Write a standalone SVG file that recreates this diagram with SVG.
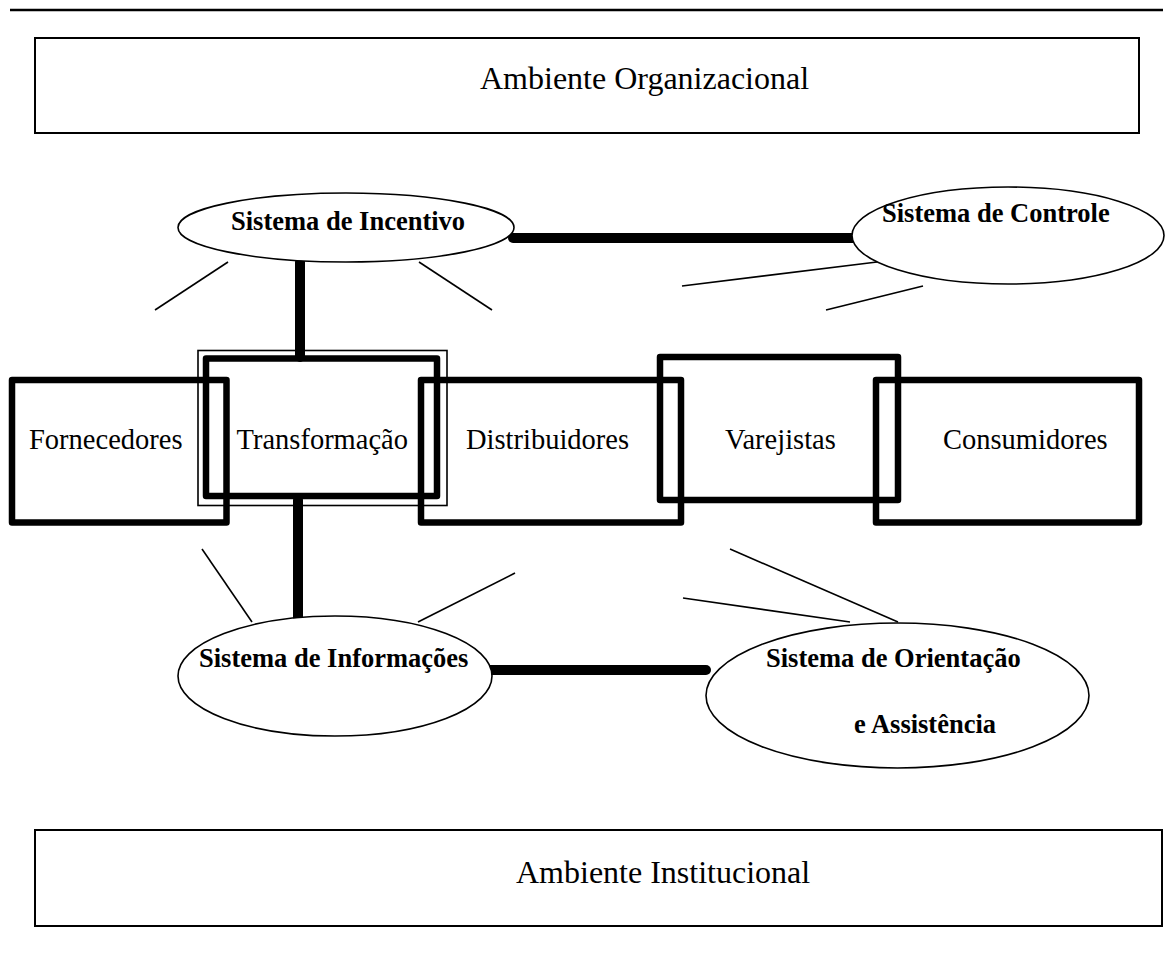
<svg xmlns="http://www.w3.org/2000/svg" width="1175" height="964" viewBox="0 0 1175 964">
  <style>
    .env { fill: none; stroke: #000; stroke-width: 2; }
    .box { fill: none; stroke: #000; stroke-width: 6.5; stroke-linejoin: round; }
    .thin { fill: none; stroke: #000; stroke-width: 1.6; }
    .ell { fill: #fff; stroke: #000; stroke-width: 1.6; }
    .link { stroke: #000; stroke-width: 10; stroke-linecap: round; fill: none; }
    .spoke { stroke: #000; stroke-width: 1.6; fill: none; }
    .lbl { font-family: "Liberation Serif", "Times New Roman", serif; font-size: 28.5px; fill: #000; }
    .env-lbl { font-family: "Liberation Serif", "Times New Roman", serif; font-size: 32px; fill: #000; }
    .sys { font-family: "Liberation Serif", "Times New Roman", serif; font-size: 26.5px; font-weight: bold; fill: #000; }
  </style>
  <rect width="1175" height="964" fill="#fff"/>

  <!-- header rule -->
  <line x1="10" y1="10" x2="1163" y2="10" stroke="#000" stroke-width="2.5"/>

  <g id="ambiente-organizacional">
    <rect class="env" x="35" y="38" width="1104" height="95"/>
    <text class="env-lbl" x="480" y="89">Ambiente Organizacional</text>
  </g>

  <g id="ambiente-institucional">
    <rect class="env" x="35" y="830" width="1127" height="96"/>
    <text class="env-lbl" x="516" y="883">Ambiente Institucional</text>
  </g>

  <!-- connectors -->
  <g id="connectors">
    <line class="link" x1="513" y1="238" x2="853" y2="238"/>
    <line class="link" x1="300" y1="262" x2="300" y2="357"/>
    <line class="link" x1="298" y1="500" x2="298" y2="620"/>
    <line class="link" x1="490" y1="670" x2="706" y2="670"/>

    <line class="spoke" x1="155" y1="310" x2="228" y2="262"/>
    <line class="spoke" x1="419" y1="262" x2="492" y2="310"/>
    <line class="spoke" x1="682" y1="286" x2="877" y2="262"/>
    <line class="spoke" x1="826" y1="310" x2="923" y2="286"/>
    <line class="spoke" x1="202" y1="549" x2="252" y2="622"/>
    <line class="spoke" x1="418" y1="622" x2="515" y2="573"/>
    <line class="spoke" x1="730" y1="549" x2="898" y2="622"/>
    <line class="spoke" x1="683" y1="598" x2="850" y2="622"/>
  </g>

  <g id="fornecedores">
    <rect class="box" x="12" y="380" width="214.5" height="142.5"/>
    <text class="lbl" x="29" y="449">Fornecedores</text>
  </g>

  <g id="transformacao">
    <rect class="thin" x="198" y="350.5" width="249" height="155"/>
    <rect class="box" x="206" y="358.5" width="231" height="137.5"/>
    <text class="lbl" x="236.5" y="449">Transformação</text>
  </g>

  <g id="distribuidores">
    <rect class="box" x="421" y="380" width="260" height="142.5"/>
    <text class="lbl" x="466" y="449">Distribuidores</text>
  </g>

  <g id="varejistas">
    <rect class="box" x="660" y="357" width="238" height="143"/>
    <text class="lbl" x="725" y="449">Varejistas</text>
  </g>

  <g id="consumidores">
    <rect class="box" x="876" y="380" width="263" height="142.5"/>
    <text class="lbl" x="943" y="449">Consumidores</text>
  </g>

  <g id="sistema-incentivo">
    <ellipse class="ell" cx="346" cy="227.5" rx="168" ry="34.5"/>
    <text class="sys" x="231" y="230">Sistema de Incentivo</text>
  </g>

  <g id="sistema-controle">
    <ellipse class="ell" cx="1008" cy="235.5" rx="156" ry="48.5"/>
    <text class="sys" x="882" y="222">Sistema de Controle</text>
  </g>

  <g id="sistema-informacoes">
    <ellipse class="ell" cx="335" cy="676" rx="157" ry="60"/>
    <text class="sys" x="199" y="667">Sistema de Informações</text>
  </g>

  <g id="sistema-orientacao">
    <ellipse class="ell" cx="897.5" cy="695.5" rx="191.5" ry="72.5"/>
    <text class="sys" x="766" y="667">Sistema de Orientação</text>
    <text class="sys" x="854" y="733">e Assistência</text>
  </g>
</svg>
